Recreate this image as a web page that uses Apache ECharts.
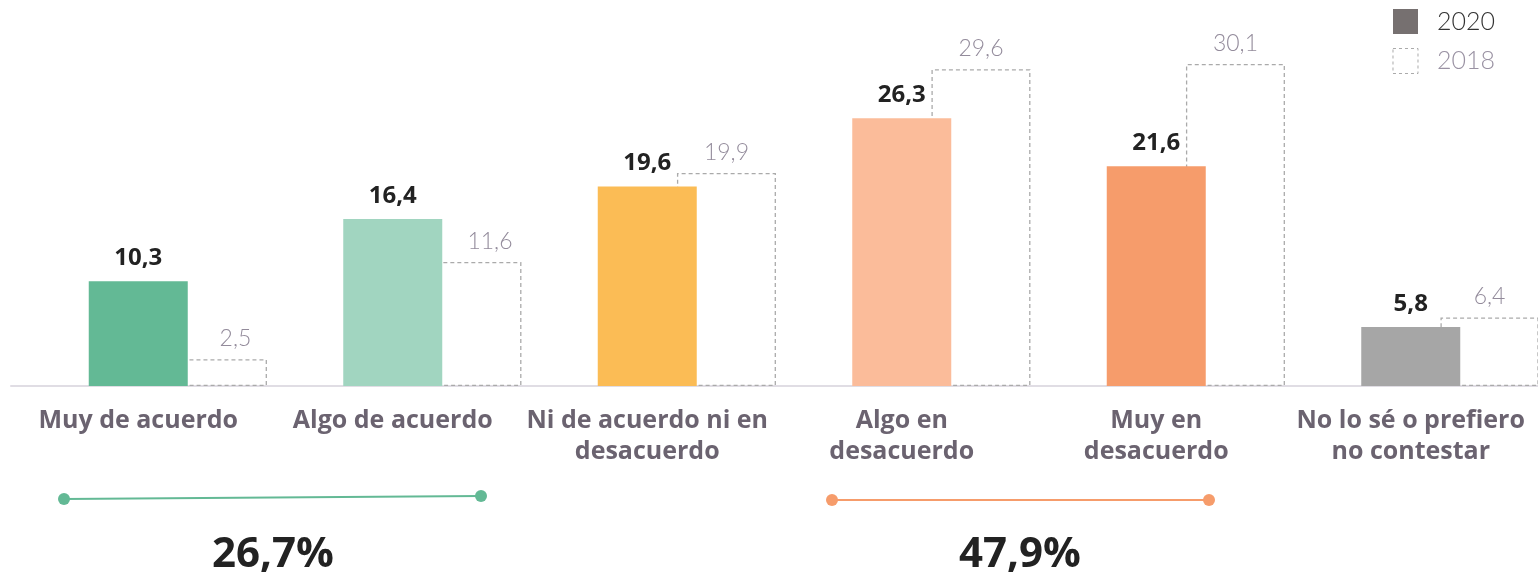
<!DOCTYPE html>
<html>
<head>
<meta charset="utf-8">
<script src="https://cdn.jsdelivr.net/npm/echarts@6/dist/echarts.min.js"></script>
<style>
  html, body { margin: 0; padding: 0; background: #fff; }
  #chart { width: 1538px; height: 578px; }
</style>
</head>
<body>
<div id="chart"></div>
<script>
const categories = [
  'Muy de acuerdo',
  'Algo de acuerdo',
  'Ni de acuerdo ni en\ndesacuerdo',
  'Algo en\ndesacuerdo',
  'Muy en\ndesacuerdo',
  'No lo sé o prefiero\nno contestar',
];
const values2020 = [10.3, 16.4, 19.6, 26.3, 21.6, 5.8];
const values2018 = [2.5, 11.6, 19.9, 29.6, 30.1, 6.4];
const barColors = ['#63b995', '#a1d5c0', '#fbbc55', '#fbbc9a', '#f69c6b', '#a6a6a6'];
const groupTotals = ['26,7%', '47,9%'];

const BOLD_FONT = '"Open Sans", Lato, sans-serif';
const THIN_FONT = 'Lato, "Open Sans", sans-serif';
const fmt = (v) => String(v).replace('.', ',');

const chart = echarts.init(document.getElementById('chart'));

// an empty series on the left keeps the 2020 bar centred on its label,
// while 2018 overlaps it on the right (own y scale, as in the original)
const option = {
  animation: false,
  legend: {
    right: 38,
    top: 4,
    orient: 'vertical',
    itemWidth: 25,
    itemHeight: 25,
    itemGap: 14,
    textStyle: { fontSize: 25, fontFamily: THIN_FONT, fontWeight: 300, padding: [0, 0, 0, 14] },
    data: [
      { name: '2020', icon: 'rect', itemStyle: { color: '#767070' }, textStyle: { color: '#333' } },
      {
        name: '2018',
        icon: 'rect',
        itemStyle: { color: 'transparent', borderColor: '#aaa', borderWidth: 1, borderType: [3, 3] },
        textStyle: { color: '#9a92a3' },
      },
    ],
  },
  grid: { left: 11, right: 0, top: 16, bottom: 192 },
  xAxis: {
    type: 'category',
    data: categories,
    axisLine: { lineStyle: { color: '#e0dde4', width: 2 } },
    axisTick: { show: false },
    axisLabel: {
      interval: 0,
      margin: 19,
      color: '#6b6370',
      fontSize: 25,
      fontWeight: 'bold',
      lineHeight: 31,
      fontFamily: BOLD_FONT,
    },
  },
  yAxis: [
    { type: 'value', min: 0, max: 36.35, show: false, splitLine: { show: false } },
    { type: 'value', min: 0, max: 34.58, show: false, splitLine: { show: false } },
  ],
  series: [
    {
      name: 'spacer',
      type: 'bar',
      barWidth: 99,
      barGap: '-20%',
      data: categories.map(() => '-'),
    },
    {
      name: '2020',
      type: 'bar',
      yAxisIndex: 0,
      barWidth: 99,
      barGap: '-20%',
      z: 3,
      itemStyle: { color: '#767070' },
      label: {
        show: true,
        position: 'top',
        distance: 11,
        color: '#222',
        fontSize: 24,
        fontWeight: 'bold',
        fontFamily: BOLD_FONT,
        formatter: (p) => fmt(p.value),
      },
      data: values2020.map((v, i) => ({ value: v, itemStyle: { color: barColors[i] } })),
    },
    {
      name: '2018',
      type: 'bar',
      yAxisIndex: 1,
      barWidth: 99,
      barGap: '-20%',
      z: 1,
      itemStyle: { color: 'transparent', borderColor: '#aaa', borderWidth: 1.3, borderType: [4, 3] },
      label: {
        show: true,
        position: 'top',
        distance: 9,
        color: '#938b9b',
        fontSize: 23,
        fontWeight: 300,
        fontFamily: THIN_FONT,
        formatter: (p) => fmt(p.value),
      },
      data: values2018.map((v, i) => ({
        value: v,
        label: i < 2 ? { offset: [18, 0] } : undefined,
      })),
    },
  ],
  graphic: [
    { type: 'line', shape: { x1: 64, y1: 499, x2: 481, y2: 496 }, style: { stroke: '#63b995', lineWidth: 2 } },
    { type: 'circle', shape: { cx: 64, cy: 499, r: 6 }, style: { fill: '#63b995' } },
    { type: 'circle', shape: { cx: 481, cy: 496, r: 6 }, style: { fill: '#63b995' } },
    { type: 'line', shape: { x1: 832, y1: 500, x2: 1209, y2: 500 }, style: { stroke: '#f69c6b', lineWidth: 2 } },
    { type: 'circle', shape: { cx: 832, cy: 500, r: 6 }, style: { fill: '#f69c6b' } },
    { type: 'circle', shape: { cx: 1209, cy: 500, r: 6 }, style: { fill: '#f69c6b' } },
    {
      type: 'text', x: 273, y: 555,
      style: { text: groupTotals[0], fill: '#222', font: 'bold 42px ' + BOLD_FONT, align: 'center', verticalAlign: 'middle' },
    },
    {
      type: 'text', x: 1020, y: 555,
      style: { text: groupTotals[1], fill: '#222', font: 'bold 42px ' + BOLD_FONT, align: 'center', verticalAlign: 'middle' },
    },
  ],
};

chart.setOption(option);
</script>
</body>
</html>
